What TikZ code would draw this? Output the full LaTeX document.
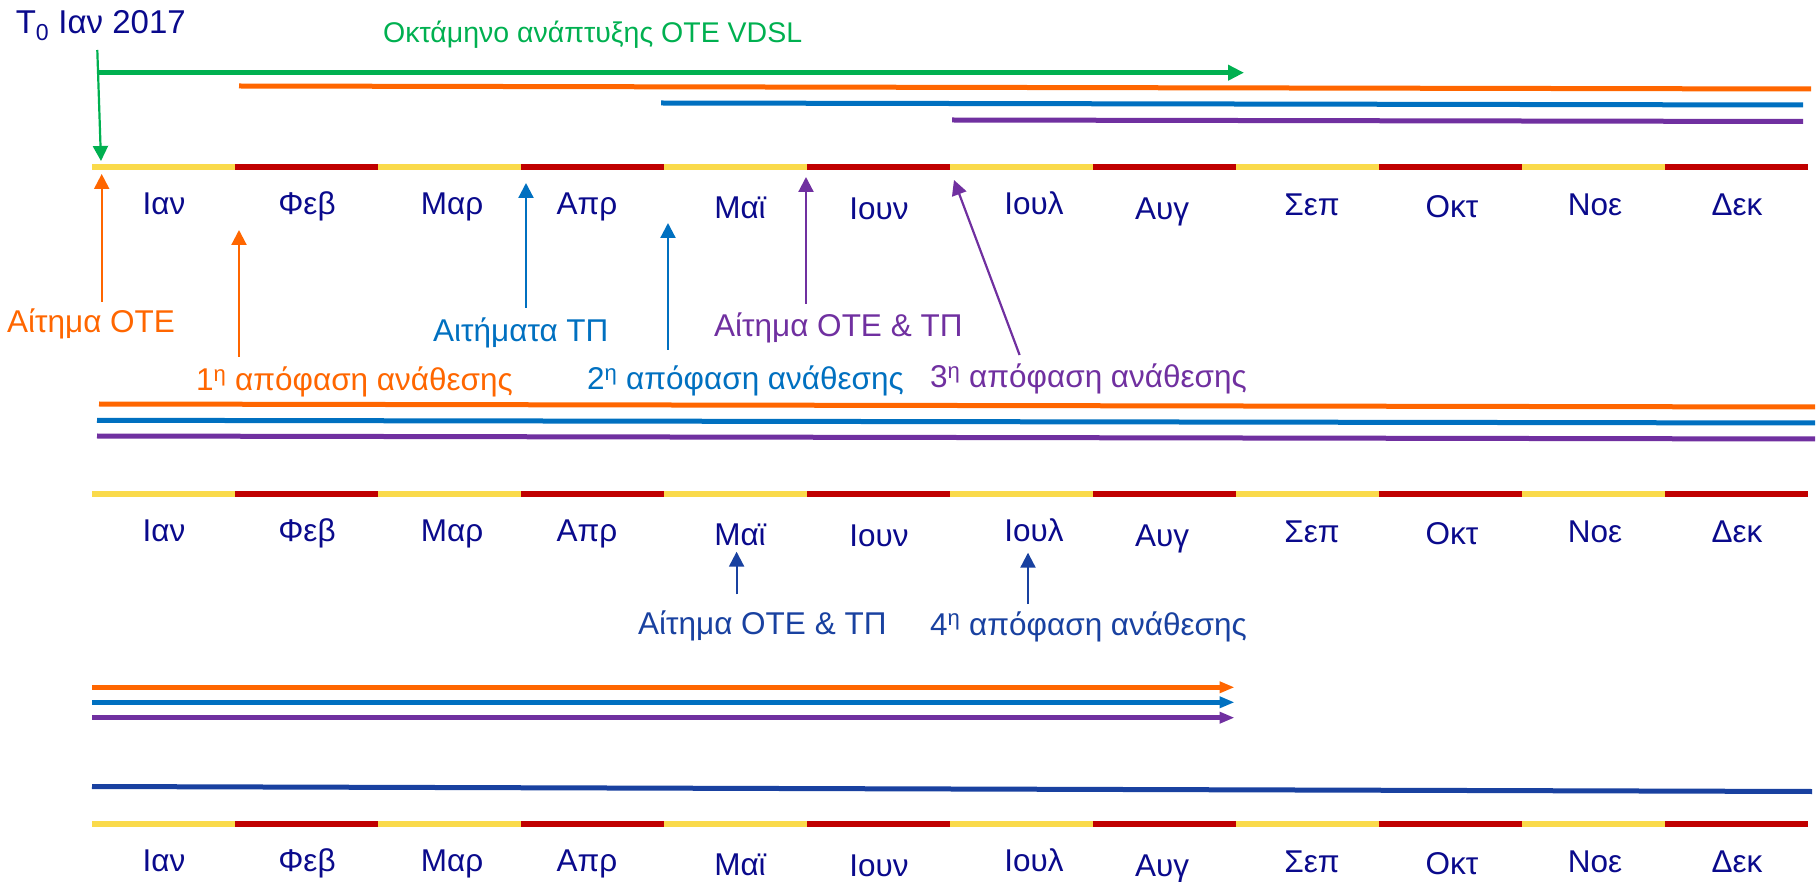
\documentclass[tikz,border=0pt]{standalone}
\usepackage{fontspec}
\setmainfont{Liberation Sans}
\usetikzlibrary{arrows.meta}
\definecolor{tlyellow}{RGB}{250,218,75}
\definecolor{tlred}{RGB}{192,0,0}
\definecolor{cgreen}{RGB}{0,176,80}
\definecolor{corange}{RGB}{255,102,0}
\definecolor{cblue}{RGB}{0,112,192}
\definecolor{cpurple}{RGB}{112,48,160}
\definecolor{cnavy}{RGB}{10,10,140}
\definecolor{cdblue}{RGB}{25,65,160}
\newcommand{\lbfont}{\fontsize{31.5}{36}\selectfont}
\newcommand{\titlefont}{\fontsize{28.5}{34}\selectfont}
\newcommand{\tzfont}{\fontsize{33}{38}\selectfont}
\tikzset{
  seg/.style={line width=5.7pt},
  band/.style={line width=5pt},
  pin/.style={line width=2.2pt,-{Triangle[length=15pt,width=15pt]}},
  bandarrow/.style={line width=5pt,-{Triangle[length=16pt,width=15pt]}},
  smallarrow/.style={line width=5pt,-{Triangle[length=15pt,width=11pt]}},
  lbl/.style={inner sep=0pt,anchor=base west,font=\lbfont},
  mon/.style={inner sep=0pt,anchor=base,font=\lbfont,text=cnavy}
}
\begin{document}
\begin{tikzpicture}[x=1pt,y=-1pt]
\useasboundingbox (0,0) rectangle (1816,882);
% timelines
\foreach \row/\ty in {1/166.7,2/494.3,3/824}{
  \foreach \i in {0,...,12}{\coordinate (r\row-\i) at ({92+143*\i},\ty);}
  \foreach \i in {0,2,...,10}{\pgfmathtruncatemacro\j{\i+1}\draw[seg,tlyellow] (r\row-\i) -- (r\row-\j);}
  \foreach \i in {1,3,...,11}{\pgfmathtruncatemacro\j{\i+1}\draw[seg,tlred] (r\row-\i) -- (r\row-\j);}
  \foreach \m/\x/\d [count=\k] in {Ιαν/164/0,Φεβ/307/0,Μαρ/452/0,Απρ/587/0,Μαϊ/740/4,Ιουν/879/5,Ιουλ/1034/0,Αυγ/1162/5,Σεπ/1312/1,Οκτ/1452/3,Νοε/1595/1,Δεκ/1737/1}{
    \node[mon] (m\row-\k) at (\x,{\ty+47.4+\d}) {\m};
  }
}
% ---------- top section ----------
\node[lbl,font=\tzfont,text=cnavy] (t0) at (15.6,33.3) {T\textsubscript{0} Ιαν 2017};
\node[lbl,font=\titlefont,text=cgreen] (okt) at (383,43) {Οκτάμηνο ανάπτυξης ΟΤΕ VDSL};
\coordinate (gvs) at (97.3,50);
\coordinate (gve) at (101,161);
\draw[pin,cgreen] (gvs) -- (gve);
\coordinate (ghs) at (98,72.7);
\coordinate (ghe) at (1244,72.7);
\draw[bandarrow,cgreen] (ghs) -- (ghe);
\coordinate (os1) at (239,86);  \coordinate (oe1) at (1811,89);
\coordinate (bs1) at (661,103); \coordinate (be1) at (1803,105);
\coordinate (ps1) at (952,120); \coordinate (pe1) at (1803,121.5);
\draw[band,corange] (os1) -- (oe1);
\draw[band,cblue] (bs1) -- (be1);
\draw[band,cpurple] (ps1) -- (pe1);
% labels under timeline 1
\node[lbl,text=corange] (lote) at (7,333) {Αίτημα ΟΤΕ};
\node[lbl,text=corange] (la1) at (196,391) {1\textsuperscript{η} απόφαση ανάθεσης};
\node[lbl,text=cblue] (ltp) at (433,341.7) {Αιτήματα ΤΠ};
\node[lbl,text=cblue] (la2) at (587,390) {2\textsuperscript{η} απόφαση ανάθεσης};
\node[lbl,text=cpurple] (lotp) at (714,337) {Αίτημα ΟΤΕ \& ΤΠ};
\node[lbl,text=cpurple] (la3) at (930,388) {3\textsuperscript{η} απόφαση ανάθεσης};
\coordinate (ao1s) at (101.7,302); \coordinate (ao1e) at (101.7,174);
\coordinate (ao2s) at (239,357);   \coordinate (ao2e) at (239,230);
\coordinate (ab1s) at (526,308);   \coordinate (ab1e) at (526,183);
\coordinate (ab2s) at (668,350);   \coordinate (ab2e) at (668,223);
\coordinate (ap1s) at (806,304);   \coordinate (ap1e) at (806,177);
\coordinate (ap2s) at (1019.6,355); \coordinate (ap2e) at (954,180);
\draw[pin,corange] (ao1s) -- (ao1e);
\draw[pin,corange] (ao2s) -- (ao2e);
\draw[pin,cblue] (ab1s) -- (ab1e);
\draw[pin,cblue] (ab2s) -- (ab2e);
\draw[pin,cpurple] (ap1s) -- (ap1e);
\draw[pin,cpurple] (ap2s) -- (ap2e);
% ---------- middle section ----------
\coordinate (os2) at (99,404);  \coordinate (oe2) at (1815,407);
\coordinate (bs2) at (97,420.3); \coordinate (be2) at (1815,423);
\coordinate (ps2) at (97,436);  \coordinate (pe2) at (1815,439);
\draw[band,corange] (os2) -- (oe2);
\draw[band,cblue] (bs2) -- (be2);
\draw[band,cpurple] (ps2) -- (pe2);
\node[lbl,text=cdblue] (lotp2) at (638,634) {Αίτημα ΟΤΕ \& ΤΠ};
\node[lbl,text=cdblue] (la4) at (930,635) {4\textsuperscript{η} απόφαση ανάθεσης};
\coordinate (ad1s) at (736.6,594.3); \coordinate (ad1e) at (736.6,551.7);
\coordinate (ad2s) at (1028,604);    \coordinate (ad2e) at (1028,552.7);
\draw[pin,cdblue] (ad1s) -- (ad1e);
\draw[pin,cdblue] (ad2s) -- (ad2e);
% ---------- bottom section ----------
\coordinate (os3) at (92,687.3);  \coordinate (oe3) at (1234.5,687.3);
\coordinate (bs3) at (92,702.3);  \coordinate (be3) at (1234.5,702.3);
\coordinate (ps3) at (92,717.7);  \coordinate (pe3) at (1234.5,717.7);
\draw[smallarrow,corange] (os3) -- (oe3);
\draw[smallarrow,cblue] (bs3) -- (be3);
\draw[smallarrow,cpurple] (ps3) -- (pe3);
\coordinate (ds3) at (92,786.5); \coordinate (de3) at (1812,791.5);
\draw[band,cdblue] (ds3) -- (de3);
\end{tikzpicture}
\end{document}
